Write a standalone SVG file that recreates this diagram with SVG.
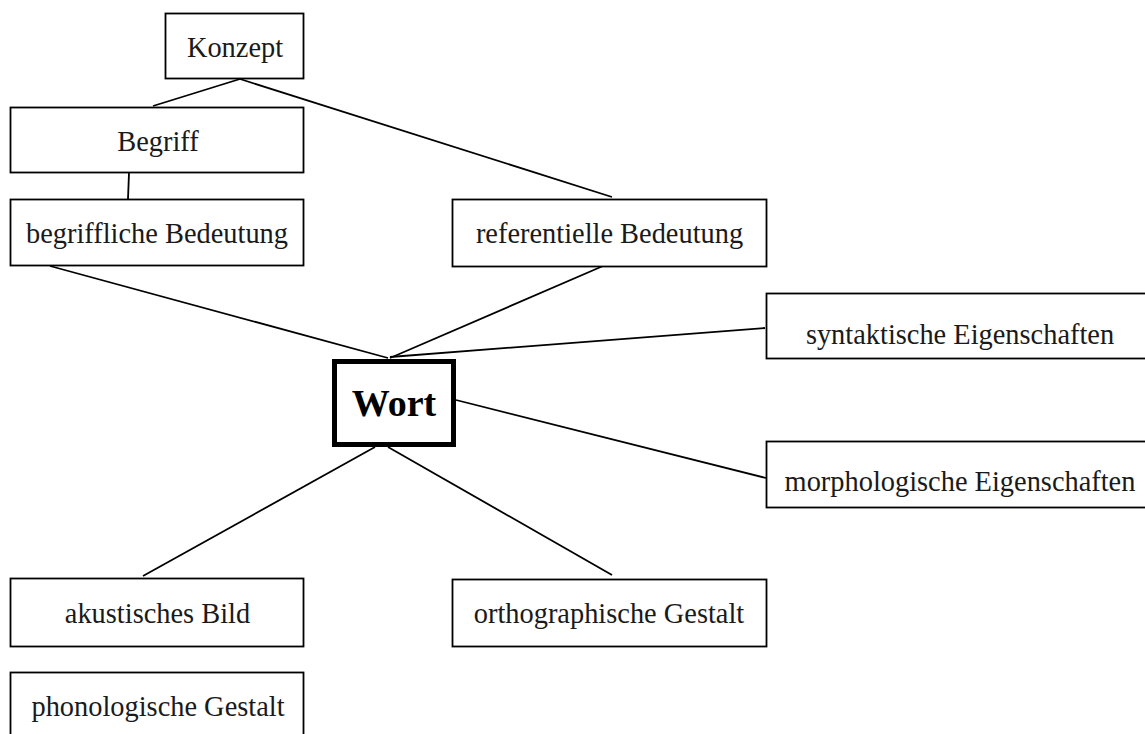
<svg xmlns="http://www.w3.org/2000/svg" width="1145" height="734" viewBox="0 0 1145 734">
<style>
.box{fill:#fff;stroke:#000;stroke-width:1.8}
.t{font-family:"Liberation Serif","Times New Roman",serif;font-size:28.4px;fill:#1a1a1a;text-anchor:middle}
.c line{stroke:#000;stroke-width:1.8}
</style>
<rect width="1145" height="734" fill="#fff"/>
<g class="c" id="connectors">
<line x1="240" y1="79" x2="153" y2="106"/>
<line x1="240" y1="79" x2="612" y2="197"/>
<line x1="129" y1="173" x2="128" y2="199"/>
<line x1="50" y1="266" x2="388" y2="358"/>
<line x1="603" y1="266" x2="390" y2="358"/>
<line x1="765" y1="328" x2="390" y2="357"/>
<line x1="456" y1="400" x2="766" y2="478"/>
<line x1="375" y1="447" x2="143" y2="576"/>
<line x1="388" y1="447" x2="612" y2="575"/>
</g>
<g id="konzept"><rect class="box" x="165.5" y="13.5" width="138" height="65"/><text class="t" x="235" y="57">Konzept</text></g>
<g id="begriff"><rect class="box" x="10.5" y="107.5" width="293" height="65"/><text class="t" x="158" y="151">Begriff</text></g>
<g id="begriffliche"><rect class="box" x="10.5" y="199.5" width="293" height="66"/><text class="t" x="157" y="243">begriffliche Bedeutung</text></g>
<g id="referentielle"><rect class="box" x="452.5" y="199.5" width="314" height="67"/><text class="t" x="609.5" y="243">referentielle Bedeutung</text></g>
<g id="syntaktische"><rect class="box" x="766.5" y="293.5" width="390" height="65"/><text class="t" x="960" y="344">syntaktische Eigenschaften</text></g>
<g id="morphologische"><rect class="box" x="766.5" y="441.5" width="390" height="66"/><text class="t" x="960" y="491">morphologische Eigenschaften</text></g>
<g id="wort"><rect x="334.5" y="361.5" width="119" height="83" fill="#fff" stroke="#000" stroke-width="5"/><text x="394" y="416" style="font-family:'Liberation Serif','Times New Roman',serif;font-size:38px;font-weight:bold;text-anchor:middle" fill="#000">Wort</text></g>
<g id="akustisches"><rect class="box" x="10.5" y="578.5" width="293" height="68"/><text class="t" x="157.5" y="623">akustisches Bild</text></g>
<g id="orthographische"><rect class="box" x="452.5" y="579.5" width="314" height="67"/><text class="t" x="609" y="623">orthographische Gestalt</text></g>
<g id="phonologische"><rect class="box" x="10.5" y="672.5" width="293" height="68"/><text class="t" x="158" y="716">phonologische Gestalt</text></g>
</svg>
